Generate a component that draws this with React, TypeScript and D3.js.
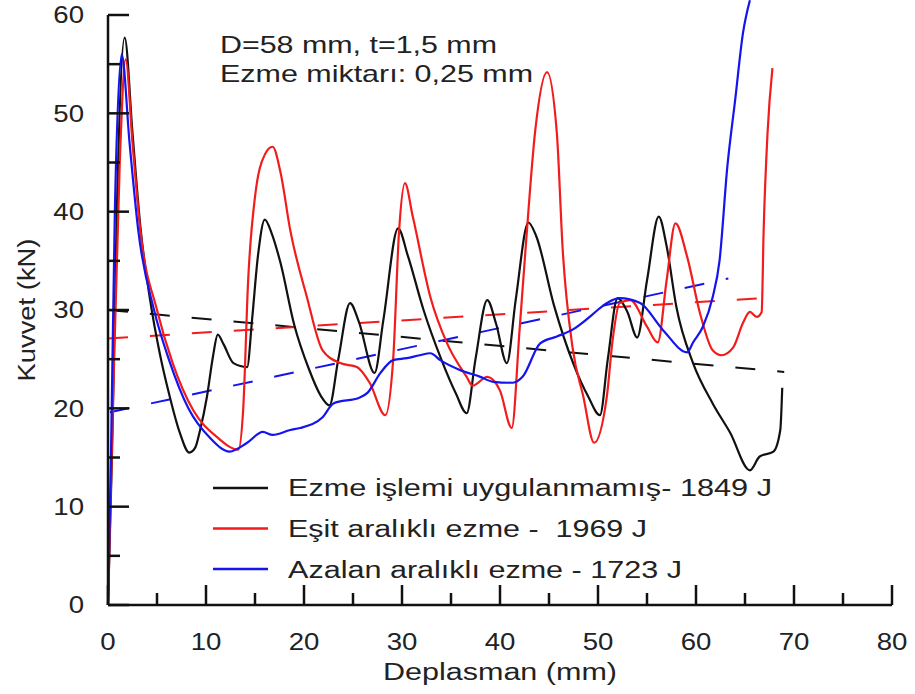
import React from 'react';
import * as d3 from 'd3';

const xTicks = [0, 10, 20, 30, 40, 50, 60, 70, 80];
const xMinorTicks = [5, 15, 25, 35, 45, 55, 65, 75];
const yTicks = [0, 10, 20, 30, 40, 50, 60];
const yMinorTicks = [5, 15, 25, 35, 45, 55];

// Ezme işlemi uygulanmamış (black)
const blackSeries: [number, number][] = [
  [0, 0], [0.4, 15], [0.9, 40], [1.7, 57.7], [2.5, 48], [3.3, 38.5], [4.3, 31], [5.3, 25.5],
  [6.3, 21.2], [7.3, 17.6], [8.3, 15.5], [8.9, 16], [9.4, 17.8], [10.1, 21.2], [10.7, 25.2],
  [11.2, 27.5], [11.8, 26.5], [12.8, 24.6], [14.2, 24.2], [14.7, 29], [15.3, 35.5], [16, 39.2],
  [16.7, 37.8], [17.6, 34.8], [19, 28.5], [20.5, 24], [21.7, 21.3], [22.6, 20.3], [23.5, 25],
  [24.7, 30.7], [25.6, 28.8], [27.2, 23.6], [28.1, 29], [29.6, 38.3], [30.6, 35.5], [32.2, 30],
  [34, 25], [35.5, 21.5], [36.6, 19.5], [37.5, 25], [38.7, 31], [39.6, 28.6], [40.7, 24.6],
  [41.6, 31], [42.9, 38.9], [43.7, 37.5], [45.5, 30.5], [47.5, 24.5], [49, 21.2], [50.2, 19.3],
  [51, 25], [52, 31.2], [53, 29.8], [54, 27.2], [55, 33], [56.2, 39.5], [57, 36.5], [58, 30.3],
  [59.7, 24.6], [61.7, 20.5], [63.5, 17.5], [65.5, 13.7], [66.5, 15.1], [67.9, 15.6],
  [68.6, 17.8], [68.8, 22.1],
];

// Eşit aralıklı ezme (red)
const redSeries: [number, number][] = [
  [0, 0], [0.5, 20], [1.2, 45], [1.8, 55.5], [2.5, 47], [3.3, 38.1], [5, 30], [6.6, 24.6],
  [8.7, 19.8], [11.1, 17.1], [13.3, 15.8], [13.8, 20], [14.3, 33], [15, 41.5], [16, 45.8],
  [16.8, 46.6], [17.6, 44], [18.6, 38.1], [20.3, 31.3], [21.9, 25.9], [23.7, 24.6],
  [25.4, 24.2], [26.7, 22.6], [28.3, 19.3], [29.1, 25], [29.7, 38], [30.3, 42.9], [31.1, 39.5],
  [32.9, 31.3], [34.6, 26.6], [36.6, 23.2], [37.2, 22.3], [38.7, 23.2], [40, 21.8], [41.2, 18],
  [42, 28], [42.6, 36.1], [43.6, 48.3], [44.8, 54.2], [45.8, 48], [46.4, 36.1], [47.4, 26.2],
  [48.5, 21.2], [49.6, 16.5], [50.9, 21.2], [51.5, 27], [52.2, 30.7], [53.3, 31], [55, 28.3],
  [56.1, 26.7], [57, 33], [57.9, 38.8], [59.1, 35.4], [60.4, 29.7], [61.7, 25.9], [62.6, 25.4],
  [63.8, 26.2], [64.8, 28.7], [65.5, 29.8], [66.2, 29.3], [66.7, 29.8], [66.9, 38],
  [67.3, 48], [67.8, 54.6],
];

// Azalan aralıklı ezme (blue)
const blueSeries: [number, number][] = [
  [0, 0], [0.3, 15], [0.7, 40], [1.4, 56], [2.2, 47], [3.1, 38], [4.7, 30], [6.2, 25],
  [8.2, 20], [10.4, 17], [12.4, 15.6], [14.2, 16.5], [15.8, 17.6], [16.8, 17.3], [18.6, 17.8],
  [19.6, 18], [21.9, 19.1], [23, 20.5], [25.7, 21.1], [26.5, 21.6], [27.8, 23.6], [29.1, 24.9],
  [30.5, 25.1], [31.8, 25.4], [32.9, 25.6], [33.9, 24.9], [35.9, 23.9], [38, 23.2], [39.3, 22.7],
  [41.3, 22.6], [42.3, 23.2], [44.1, 26.6], [45.8, 27.3], [47.4, 28], [49.5, 29.6], [50.2, 30.2],
  [52.2, 31.2], [54.3, 30.7], [56.6, 28], [59.1, 25.7], [59.7, 26.7], [60.7, 28.3], [61.7, 31.3],
  [62.4, 35], [63.2, 44.6], [64, 51.4], [64.8, 58.2], [65.5, 61.5],
];

const blackTrend: [number, number][] = [[0, 30.0], [69, 23.7]];
const redTrend: [number, number][] = [[0, 27.1], [68.3, 31.3]];
const blueTrend: [number, number][] = [[0.2, 19.6], [63.3, 33.2]];

const legendLabels = [
  'Ezme işlemi uygulanmamış- 1849 J',
  'Eşit aralıklı ezme -  1969 J',
  'Azalan aralıklı ezme - 1723 J',
];
const legendWidths = [484, 359, 394];
const seriesColors = ['#111111', '#f21c1c', '#1414ee'];

const annotationLines = ['D=58 mm, t=1,5 mm', 'Ezme miktarı: 0,25 mm'];
const annotationWidths = [277, 313];

export default function App() {
  const W = 915, H = 694;
  const x = d3.scaleLinear().domain([0, 80]).range([108, 892]);
  const y = d3.scaleLinear().domain([0, 60]).range([605, 15]);
  const line = d3.line<[number, number]>().x(d => x(d[0])).y(d => y(d[1])).curve(d3.curveMonotoneX);
  const straight = d3.line<[number, number]>().x(d => x(d[0])).y(d => y(d[1]));
  const font = '"Liberation Sans", Arial, sans-serif';
  const textColor = '#222';
  const series = [blackSeries, redSeries, blueSeries];
  const trends = [blackTrend, redTrend, blueTrend];

  return (
    <svg width={W} height={H} style={{ position: 'absolute', left: 0, top: 0, background: '#fff' }}
      fontFamily={font}>
      <rect x={0} y={0} width={W} height={H} fill="#fff" />
      {trends.map((t, i) => (
        <path key={'t' + i} d={straight(t) || ''} fill="none" stroke={seriesColors[i]}
          strokeWidth={2} strokeDasharray="20,22" />
      ))}
      {series.map((s, i) => (
        <path key={'s' + i} d={line(s) || ''} fill="none" stroke={seriesColors[i]}
          strokeWidth={2.2} strokeLinejoin="round" />
      ))}
      <line x1={x(0)} y1={y(60)} x2={x(0)} y2={y(0)} stroke="#111" strokeWidth={2.5} />
      <line x1={x(0)} y1={y(0)} x2={x(80)} y2={y(0)} stroke="#111" strokeWidth={2.5} />
      {yTicks.map(v => (
        <line key={'yt' + v} x1={x(0)} x2={x(0) + 21} y1={y(v)} y2={y(v)} stroke="#111" strokeWidth={2.5} />
      ))}
      {yMinorTicks.map(v => (
        <line key={'ym' + v} x1={x(0)} x2={x(0) + 12} y1={y(v)} y2={y(v)} stroke="#111" strokeWidth={2.5} />
      ))}
      {xTicks.map(v => (
        <line key={'xt' + v} x1={x(v)} x2={x(v)} y1={y(0)} y2={y(0) - 20} stroke="#111" strokeWidth={2.5} />
      ))}
      {xMinorTicks.map(v => (
        <line key={'xm' + v} x1={x(v)} x2={x(v)} y1={y(0)} y2={y(0) - 12} stroke="#111" strokeWidth={2.5} />
      ))}
      {yTicks.map(v => (
        <text key={'yl' + v} transform={`translate(84,${y(v)}) scale(1.2,1)`} textAnchor="end"
          dy="0.36em" fontSize={23} fill={textColor}>{v}</text>
      ))}
      {xTicks.map(v => (
        <text key={'xl' + v} transform={`translate(${x(v)},650) scale(1.2,1)`} textAnchor="middle"
          fontSize={23} fill={textColor}>{v}</text>
      ))}
      <text x={500} y={680} textAnchor="middle" fontSize={23} fill={textColor}
        textLength={234} lengthAdjust="spacingAndGlyphs">Deplasman (mm)</text>
      <text transform="translate(35,310) rotate(-90)" textAnchor="middle" fontSize={23} fill={textColor}
        textLength={143} lengthAdjust="spacingAndGlyphs">Kuvvet (kN)</text>
      {annotationLines.map((t, i) => (
        <text key={'a' + i} x={220} y={53 + i * 29} fontSize={24} fill={textColor}
          textLength={annotationWidths[i]} lengthAdjust="spacingAndGlyphs">{t}</text>
      ))}
      {legendLabels.map((t, i) => (
        <g key={'lg' + i}>
          <line x1={213} x2={268} y1={488 + i * 40.5} y2={488 + i * 40.5} stroke={seriesColors[i]} strokeWidth={2.5} />
          <text x={288} y={496 + i * 41} fontSize={23} fill={textColor} style={{ whiteSpace: 'pre' }}
            textLength={legendWidths[i]} lengthAdjust="spacingAndGlyphs">{t}</text>
        </g>
      ))}
    </svg>
  );
}
